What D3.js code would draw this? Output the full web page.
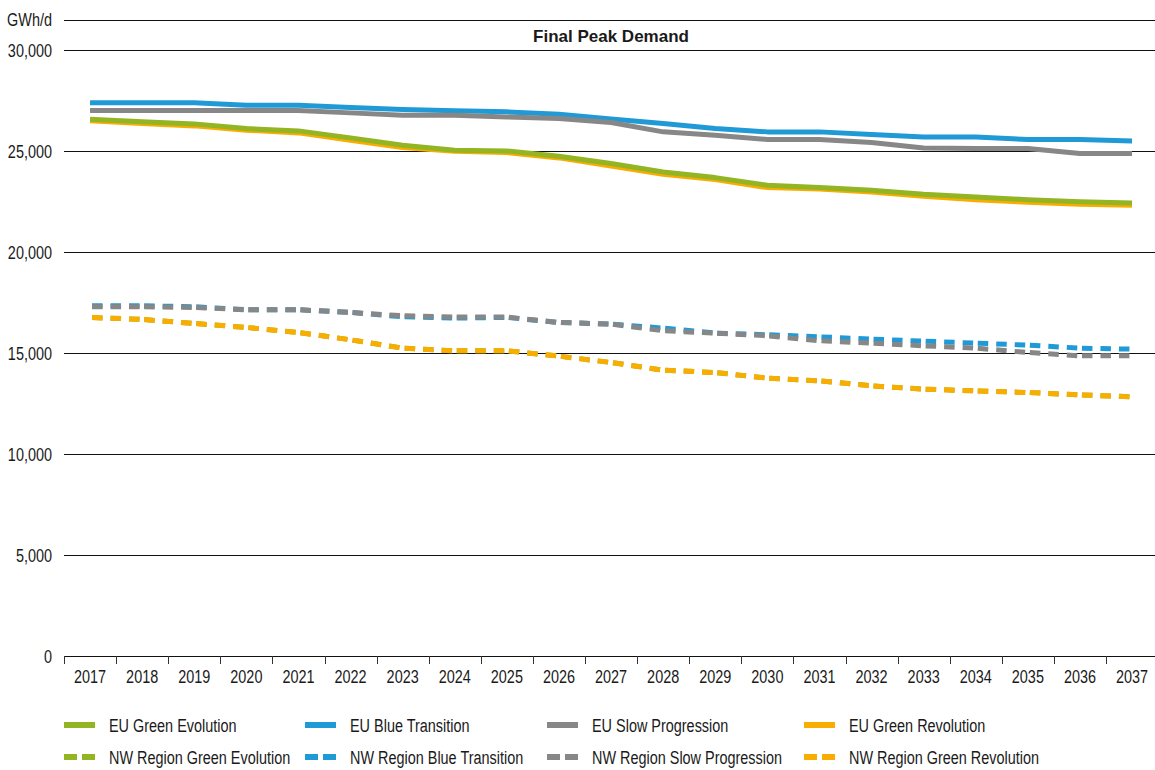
<!DOCTYPE html>
<html>
<head>
<meta charset="utf-8">
<script src="https://cdn.jsdelivr.net/npm/d3@7"></script>
<style>
  body { margin: 0; background: #fff; }
  svg text { font-family: "Liberation Sans", Arial, sans-serif; fill: #1a1a1a; }
  .title { font-weight: bold; }
</style>
</head>
<body>
<div id="chart"></div>
<script>

// categories
var years = ["2017", "2018", "2019", "2020", "2021", "2022", "2023", "2024", "2025", "2026", "2027",
             "2028", "2029", "2030", "2031", "2032", "2033", "2034", "2035", "2036", "2037"];

// y ticks
var yTicks = [0, 5000, 10000, 15000, 20000, 25000, 30000];

// series values (GWh/d)
var euGreenEvolution  = [26590, 26455, 26355, 26124, 26008, 25661, 25298, 25050, 25017, 24752, 24390,
                         23975, 23694, 23314, 23198, 23066, 22868, 22735, 22603, 22504, 22438];
var euBlueTransition  = [27400, 27400, 27400, 27280, 27280, 27165, 27065, 27000, 26950, 26835, 26600,
                         26372, 26124, 25959, 25959, 25826, 25711, 25711, 25579, 25579, 25512];
var euSlowProgression = [27017, 27017, 27017, 27017, 27017, 26900, 26785, 26785, 26700, 26620, 26420,
                         25960, 25790, 25580, 25580, 25430, 25165, 25130, 25130, 24885, 24885];
var euGreenRevolution = [26504, 26372, 26256, 26041, 25909, 25545, 25182, 25000, 24934, 24670, 24270,
                         23860, 23595, 23198, 23132, 22983, 22768, 22603, 22471, 22372, 22322];

var nwGreenEvolution  = [16769, 16670, 16471, 16273, 16025, 15661, 15248, 15116, 15116, 14851, 14537,
                         14157, 14041, 13760, 13628, 13380, 13215, 13132, 13049, 12934, 12835];
var nwBlueTransition  = [17347, 17347, 17298, 17149, 17149, 17017, 16802, 16736, 16769, 16521, 16438,
                         16240, 15992, 15909, 15810, 15694, 15595, 15496, 15397, 15248, 15198];
var nwSlowProgression = [17298, 17298, 17265, 17149, 17149, 17017, 16851, 16785, 16785, 16521, 16438,
                         16108, 15992, 15860, 15612, 15496, 15364, 15248, 15033, 14868, 14868];
var nwGreenRevolution = [16769, 16670, 16471, 16273, 16025, 15661, 15248, 15116, 15116, 14851, 14537,
                         14157, 14041, 13760, 13628, 13380, 13215, 13132, 13049, 12934, 12835];

// colours
var cGreen = "#93b523";
var cBlue = "#1f9ad6";
var cGrey = "#878787";
var cOrange = "#f9ad00";

// series list in legend order
var series = [
    { name: "EU Green Evolution", values: euGreenEvolution, color: cGreen, dashed: false },
    { name: "EU Blue Transition", values: euBlueTransition, color: cBlue, dashed: false },
    { name: "EU Slow Progression", values: euSlowProgression, color: cGrey, dashed: false },
    { name: "EU Green Revolution", values: euGreenRevolution, color: cOrange, dashed: false },
    { name: "NW Region Green Evolution", values: nwGreenEvolution, color: cGreen, dashed: true },
    { name: "NW Region Blue Transition", values: nwBlueTransition, color: cBlue, dashed: true },
    { name: "NW Region Slow Progression", values: nwSlowProgression, color: cGrey, dashed: true },
    { name: "NW Region Green Revolution", values: nwGreenRevolution, color: cOrange, dashed: true }
];

// drawing order (index into series)
var drawOrder = [3, 0, 1, 2, 4, 7, 5, 6];

// init size
var width = 1155;
var height = 770;
var plotLeft = 64;
var plotTop = 20;
var plotBottom = 656;
var fontSize = "19px";
var squeeze = 0.76;   // condensed look for the plain labels

// init scales
var x = d3.scaleBand()
    .domain(years)
    .range([plotLeft, plotLeft + 21 * 52.1]);

var y = d3.scaleLinear()
    .domain([0, 31500])
    .range([plotBottom, plotTop]);

// init svg
var svg = d3.select("#chart")
    .append("svg")
    .attr("width", width)
    .attr("height", height);

// gridlines
var grid = svg.append("g")
    .attr("class", "grid");

grid.selectAll("line")
    .data(yTicks.filter(d => d > 0))
    .enter().append("line")
    .attr("x1", plotLeft)
    .attr("x2", width)
    .attr("y1", d => Math.round(y(d)) + 0.5)
    .attr("y2", d => Math.round(y(d)) + 0.5)
    .attr("stroke", "#111")
    .attr("stroke-width", 1);

// top frame line
grid.append("line")
    .attr("x1", plotLeft)
    .attr("x2", width)
    .attr("y1", plotTop + 0.5)
    .attr("y2", plotTop + 0.5)
    .attr("stroke", "#111");

// y axis labels
var yAxis = d3.axisLeft(y)
    .tickValues(yTicks)
    .tickSize(0)
    .tickPadding(12)
    .tickFormat(d3.format(","));

var yg = svg.append("g")
    .attr("transform", "translate(" + plotLeft + ",0)")
    .call(yAxis);
yg.select(".domain").remove();
yg.selectAll("text")
    .attr("x", -12 / squeeze)
    .attr("transform", "scale(" + squeeze + ",1)")
    .style("font-size", fontSize);

svg.append("g")
    .attr("transform", "translate(" + (plotLeft - 12) + "," + plotTop + ") scale(" + squeeze + ",1)")
    .append("text")
    .attr("dy", "0.32em")
    .attr("text-anchor", "end")
    .style("font-size", fontSize)
    .text("GWh/d");

// title
svg.append("text")
    .attr("class", "title")
    .attr("x", 611)
    .attr("y", 42)
    .attr("text-anchor", "middle")
    .style("font-size", "17px")
    .text("Final Peak Demand");

// x axis
var xAxis = d3.axisBottom(x)
    .tickSize(0)
    .tickPadding(14);

var xg = svg.append("g")
    .attr("transform", "translate(0," + plotBottom + ")")
    .call(xAxis);
xg.select(".domain").remove();
xg.selectAll("text")
    .attr("transform", "scale(" + squeeze + ",1)")
    .style("font-size", fontSize);

// axis line and ticks between categories
xg.append("line")
    .attr("x1", plotLeft)
    .attr("x2", width)
    .attr("y1", 0.5)
    .attr("y2", 0.5)
    .attr("stroke", "#111");

xg.selectAll("line.sep")
    .data(years)
    .enter().append("line")
    .attr("class", "sep")
    .attr("x1", d => Math.round(x(d)) + 0.5)
    .attr("x2", d => Math.round(x(d)) + 0.5)
    .attr("y1", 0)
    .attr("y2", 8)
    .attr("stroke", "#333");

// lines
var line = d3.line()
    .x(d => x(d[0]) + x.bandwidth() / 2)
    .y(d => y(d[1]));

var lines = svg.append("g")
    .attr("class", "lines");

drawOrder.forEach(function(i) {
    var s = series[i];
    var pts = s.values.map((v, k) => [years[k], v]);

    if (!s.dashed) {
        lines.append("path")
            .attr("d", line(pts))
            .attr("fill", "none")
            .attr("stroke", s.color)
            .attr("stroke-width", 5)
            .attr("stroke-linejoin", "round");
    }
    else {
        // dash pattern restarts at every point, so draw segment by segment
        lines.append("g")
            .selectAll("path")
            .data(d3.pairs(pts))
            .enter().append("path")
            .attr("d", d => line(d))
            .attr("fill", "none")
            .attr("stroke", s.color)
            .attr("stroke-width", 5)
            .attr("stroke-dasharray", "10.5,8")
            .attr("stroke-dashoffset", 16.5);
    }
});

// legend
var legendX = [64, 305, 547, 804];
var legendY = [725, 757];

var legend = svg.append("g")
    .attr("class", "legend");

series.forEach(function(s, i) {
    var lx = legendX[i % 4];
    var ly = legendY[Math.floor(i / 4)];
    var item = legend.append("g")
        .attr("transform", "translate(" + lx + "," + ly + ")");

    if (!s.dashed) {
        item.append("rect")
            .attr("x", 0)
            .attr("y", -3)
            .attr("width", 31)
            .attr("height", 6)
            .attr("fill", s.color);
    }
    else {
        item.append("rect")
            .attr("x", 0)
            .attr("y", -3)
            .attr("width", 13)
            .attr("height", 6)
            .attr("fill", s.color);
        item.append("rect")
            .attr("x", 18)
            .attr("y", -3)
            .attr("width", 13)
            .attr("height", 6)
            .attr("fill", s.color);
    }

    item.append("g")
        .attr("transform", "translate(45,0) scale(" + squeeze + ",1)")
        .append("text")
        .attr("dy", "0.35em")
        .style("font-size", fontSize)
        .text(s.name);
});

</script>
</body>
</html>
